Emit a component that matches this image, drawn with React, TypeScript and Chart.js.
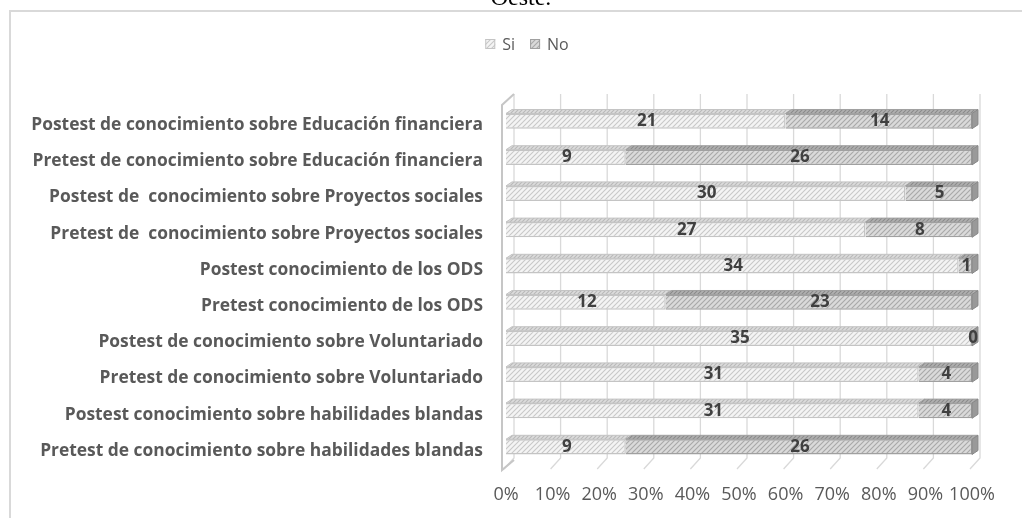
import React, { useEffect, useRef } from 'react';
import { Chart, registerables } from 'chart.js';

Chart.register(...registerables);

const chartTitle = 'Oeste.';
const categories = [
  'Postest de conocimiento sobre Educación financiera',
  'Pretest de conocimiento sobre Educación financiera',
  'Postest de  conocimiento sobre Proyectos sociales',
  'Pretest de  conocimiento sobre Proyectos sociales',
  'Postest conocimiento de los ODS',
  'Pretest conocimiento de los ODS',
  'Postest de conocimiento sobre Voluntariado',
  'Pretest de conocimiento sobre Voluntariado',
  'Postest conocimiento sobre habilidades blandas',
  'Pretest de conocimiento sobre habilidades blandas',
];
const siValues = [21, 9, 30, 27, 34, 12, 35, 31, 31, 9];
const noValues = [14, 26, 5, 8, 1, 23, 0, 4, 4, 26];
const seriesNames = ['Si', 'No'];
const xTickValues = [0, 10, 20, 30, 40, 50, 60, 70, 80, 90, 100];

const FONT = '"Open Sans", "Noto Sans", sans-serif';
const DX = 6;
const DY = 4;

function makePattern(bg: string, fg: string, size = 6): CanvasPattern | string {
  const c = document.createElement('canvas');
  c.width = size;
  c.height = size;
  const g = c.getContext('2d');
  if (!g) return bg;
  g.fillStyle = bg;
  g.fillRect(0, 0, size, size);
  g.strokeStyle = fg;
  g.lineWidth = 1.1;
  g.beginPath();
  g.moveTo(0, size);
  g.lineTo(size, 0);
  g.moveTo(-1, 1);
  g.lineTo(1, -1);
  g.moveTo(size - 1, size + 1);
  g.lineTo(size + 1, size - 1);
  g.stroke();
  const p = g.createPattern(c, 'repeat');
  return p || bg;
}

export default function App() {
  const ref = useRef<HTMLCanvasElement>(null);

  useEffect(() => {
    const canvas = ref.current;
    if (!canvas) return;

    const total = siValues.map((v, i) => v + noValues[i]);
    const siPct = siValues.map((v, i) => (total[i] ? (v / total[i]) * 100 : 0));
    const noPct = noValues.map((v, i) => (total[i] ? (v / total[i]) * 100 : 0));
    const rawValues = [siValues, noValues];

    const siFill = makePattern('#f4f4f4', '#c8c8c8', 5);
    const noFill = makePattern('#dadada', '#a8a8a8', 5);
    const siTop = makePattern('#dcdcdc', '#b8b8b8', 4);
    const noTop = makePattern('#b0b0b0', '#8a8a8a', 4);
    const fills = [siFill, noFill];
    const tops = [siTop, noTop];
    const borders = ['#c4c4c4', '#a0a0a0'];

    const framePlugin = {
      id: 'frame',
      beforeDraw(chart: any) {
        const { ctx, width, height } = chart;
        ctx.save();
        ctx.fillStyle = '#ffffff';
        ctx.fillRect(0, 0, width, height);
        ctx.strokeStyle = '#d9d9d9';
        ctx.lineWidth = 2;
        ctx.strokeRect(10, 11, width + 40, height + 40);
        ctx.fillStyle = '#000000';
        ctx.font = '24px "Liberation Serif", "DejaVu Serif", serif';
        ctx.textAlign = 'center';
        ctx.textBaseline = 'alphabetic';
        ctx.fillText(chartTitle, 521, 5);
        ctx.restore();
      },
    };

    const wallPlugin = {
      id: 'wall',
      beforeDatasetsDraw(chart: any) {
        const { ctx, chartArea, scales } = chart;
        const { top, bottom, left } = chartArea;
        const x = scales.x;
        const gdx = 8;
        const gdy = 9;
        ctx.save();
        ctx.strokeStyle = '#d9d9d9';
        ctx.lineWidth = 1.3;
        xTickValues.forEach((v) => {
          const px = x.getPixelForValue(v);
          ctx.beginPath();
          ctx.moveTo(px + gdx, top - gdy);
          ctx.lineTo(px + gdx, bottom + 2 - gdy);
          ctx.lineTo(px - 2, bottom + 4);
          ctx.stroke();
        });
        ctx.strokeStyle = '#c6c6c6';
        ctx.lineWidth = 2;
        ctx.beginPath();
        ctx.moveTo(left + gdx, top - gdy);
        ctx.lineTo(left - 4, top + 2);
        ctx.lineTo(left - 4, bottom + 5);
        ctx.lineTo(left + gdx, bottom - 5);
        ctx.stroke();
        ctx.restore();
      },
    };

    const facesPlugin = {
      id: 'faces',
      afterDatasetsDraw(chart: any) {
        const { ctx } = chart;
        ctx.save();
        const nSets = chart.data.datasets.length;
        for (let d = 0; d < nSets; d++) {
          const meta = chart.getDatasetMeta(d);
          meta.data.forEach((el: any, i: number) => {
            const p = el.getProps(['x', 'y', 'base', 'height'], true);
            const x0 = Math.min(p.x, p.base);
            const x1 = Math.max(p.x, p.base);
            const t = p.y - p.height / 2;
            const b = p.y + p.height / 2;
            if (x1 - x0 > 0.1) {
              ctx.beginPath();
              ctx.moveTo(x0, t);
              ctx.lineTo(x0 + DX, t - DY);
              ctx.lineTo(x1 + DX, t - DY);
              ctx.lineTo(x1, t);
              ctx.closePath();
              ctx.fillStyle = tops[d];
              ctx.fill();
              ctx.strokeStyle = borders[d];
              ctx.lineWidth = 1;
              ctx.stroke();
            }
            let isLast = true;
            for (let k = d + 1; k < nSets; k++) {
              const kv = chart.data.datasets[k].data[i];
              if (kv > 0) isLast = false;
            }
            if (isLast && x1 - x0 > 0.1) {
              ctx.beginPath();
              ctx.moveTo(x1, t);
              ctx.lineTo(x1 + DX, t - DY);
              ctx.lineTo(x1 + DX, b - DY);
              ctx.lineTo(x1, b);
              ctx.closePath();
              ctx.fillStyle = '#999999';
              ctx.fill();
              ctx.strokeStyle = '#888888';
              ctx.stroke();
            }
          });
        }
        ctx.font = `bold 17px ${FONT}`;
        ctx.fillStyle = '#404040';
        ctx.textAlign = 'center';
        ctx.textBaseline = 'middle';
        for (let d = 0; d < nSets; d++) {
          const meta = chart.getDatasetMeta(d);
          meta.data.forEach((el: any, i: number) => {
            const p = el.getProps(['x', 'y', 'base'], true);
            const cx = (p.x + p.base) / 2;
            ctx.fillText(String(rawValues[d][i]), cx + 1, p.y);
          });
        }
        ctx.restore();
      },
    };

    const legendPlugin = {
      id: 'customLegend',
      afterDraw(chart: any) {
        const { ctx } = chart;
        ctx.save();
        ctx.font = `16px ${FONT}`;
        const box = 10;
        const gap = 7;
        const itemGap = 15;
        const widths = seriesNames.map((n) => box + gap + ctx.measureText(n).width);
        const totalW = widths.reduce((a, b) => a + b, 0) + itemGap * (seriesNames.length - 1);
        let x = 527 - totalW / 2;
        const cy = 44;
        seriesNames.forEach((n, i) => {
          ctx.fillStyle = fills[i];
          ctx.fillRect(x, cy - box / 2, box, box);
          ctx.strokeStyle = borders[i];
          ctx.lineWidth = 1;
          ctx.strokeRect(x + 0.5, cy - box / 2 + 0.5, box - 1, box - 1);
          ctx.fillStyle = '#595959';
          ctx.textAlign = 'left';
          ctx.textBaseline = 'middle';
          ctx.fillText(n, x + box + gap, cy + 1);
          x += widths[i] + itemGap;
        });
        ctx.restore();
      },
    };

    const chart = new Chart(canvas, {
      type: 'bar',
      data: {
        labels: categories,
        datasets: [
          {
            label: seriesNames[0],
            data: siPct,
            backgroundColor: siFill as any,
            borderColor: borders[0],
            borderWidth: 1.5,
            barPercentage: 0.42,
            categoryPercentage: 1,
          },
          {
            label: seriesNames[1],
            data: noPct,
            backgroundColor: noFill as any,
            borderColor: borders[1],
            borderWidth: 1.5,
            barPercentage: 0.42,
            categoryPercentage: 1,
          },
        ],
      },
      options: {
        indexAxis: 'y',
        animation: false,
        responsive: false,
        devicePixelRatio: 1,
        layout: { padding: { top: 103, right: 50, left: 0, bottom: 0 } },
        plugins: {
          legend: { display: false },
          title: { display: false },
          tooltip: { enabled: false },
        },
        scales: {
          x: {
            stacked: true,
            min: 0,
            max: 100,
            afterFit: (s: any) => {
              s.height = 53;
            },
            afterBuildTicks: (s: any) => {
              s.ticks = xTickValues.map((v) => ({ value: v }));
            },
            grid: { display: false, drawTicks: false, tickLength: 0 },
            border: { display: false },
            ticks: {
              padding: 19,
              color: '#595959',
              font: { family: FONT, size: 18 },
              maxRotation: 0,
              autoSkip: false,
              callback: (v: any) => `${v}%`,
            },
          },
          y: {
            stacked: true,
            afterFit: (s: any) => {
              s.width = 506;
            },
            grid: { display: false, drawTicks: false, tickLength: 0 },
            border: { display: false },
            ticks: {
              padding: 23,
              labelOffset: 4,
              color: '#595959',
              font: { family: FONT, size: 17.4, weight: 'bold' },
              autoSkip: false,
            },
          },
        },
      },
      plugins: [framePlugin, wallPlugin, facesPlugin, legendPlugin],
    });

    return () => {
      chart.destroy();
    };
  }, []);

  return (
    <div style={{ position: 'absolute', left: 0, top: 0, width: 1022, height: 518 }}>
      <canvas ref={ref} width={1022} height={518} style={{ display: 'block' }} />
    </div>
  );
}
